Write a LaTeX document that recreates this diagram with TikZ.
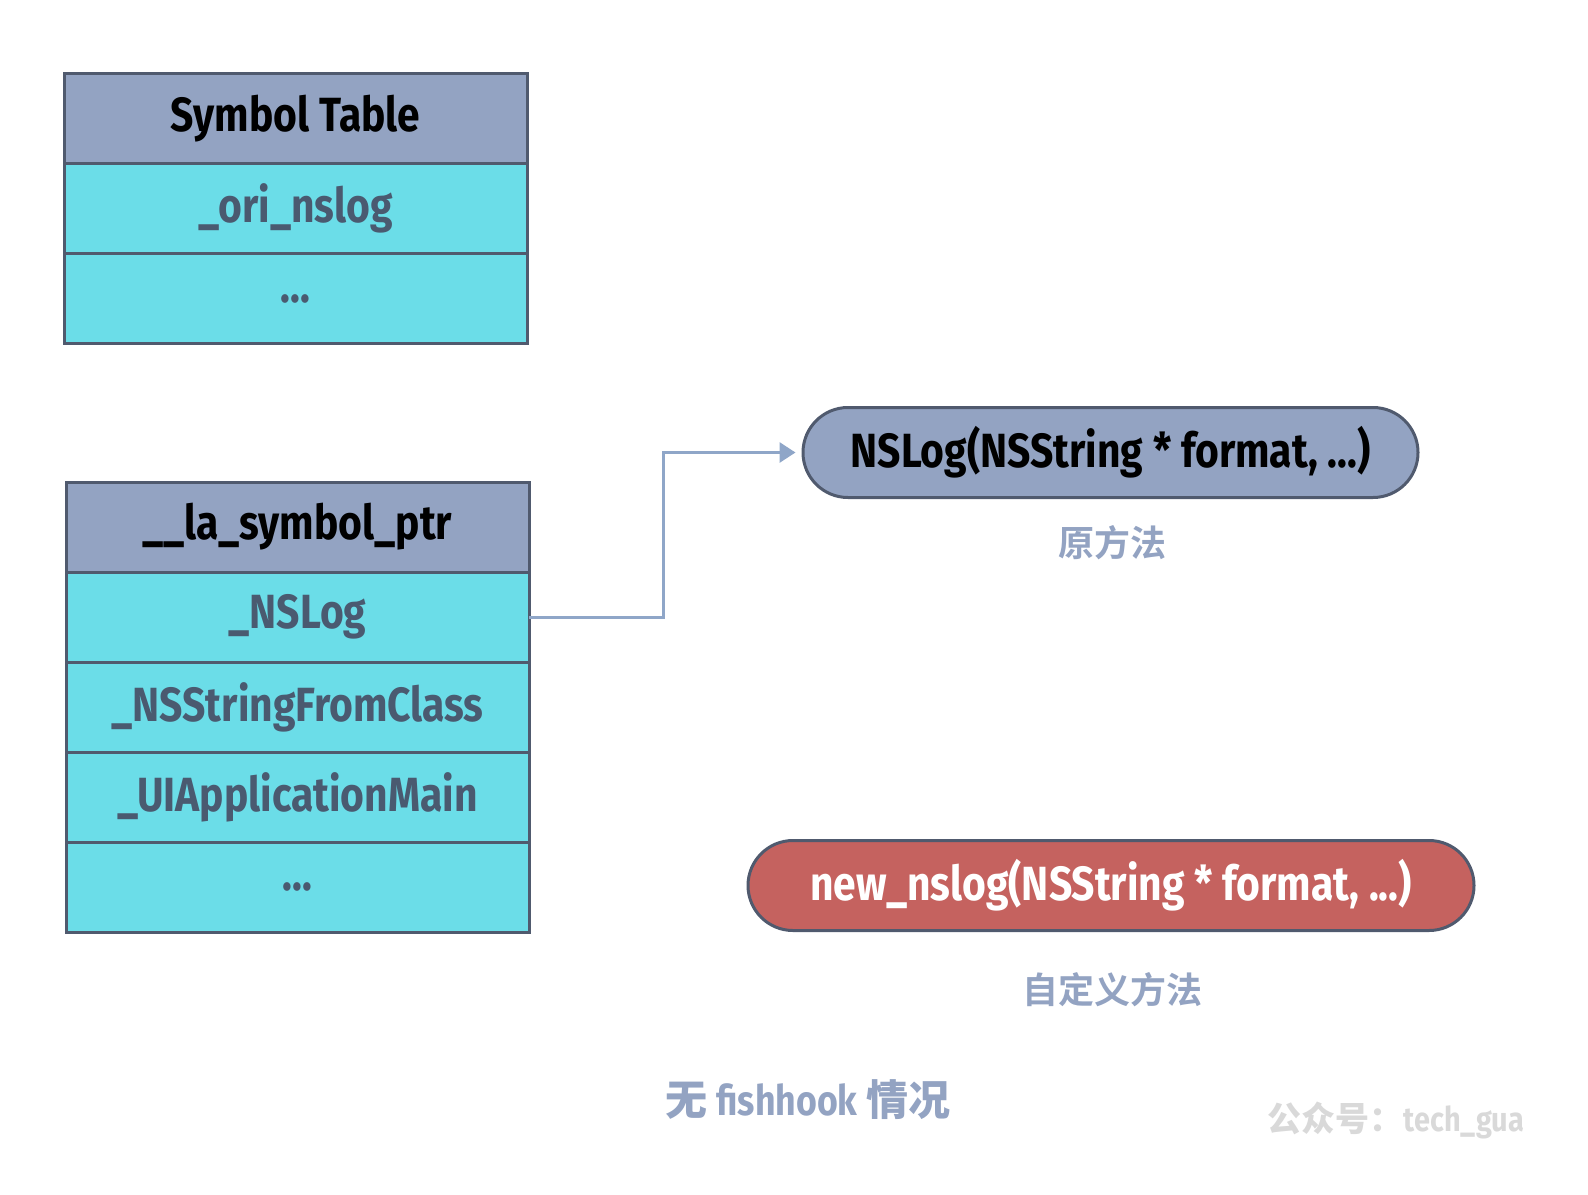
\documentclass[tikz,border=0pt]{standalone}
\usepackage{fontspec}
\setmainfont{Fira Sans}[FakeStretch=0.85]
\newfontfamily\cjk{Noto Sans CJK SC Bold}
\usetikzlibrary{shapes.misc,positioning,arrows.meta}
\definecolor{edge}{HTML}{505A6E}
\definecolor{headfill}{HTML}{93A3C2}
\definecolor{cyanfill}{HTML}{6BDDE8}
\definecolor{celltext}{HTML}{4A5A70}
\definecolor{redfill}{HTML}{C5625F}
\definecolor{linkcol}{HTML}{8FA6C8}
\definecolor{marktext}{HTML}{D9D9D9}
\tikzset{
  cell/.style={draw=edge,line width=1.5pt,minimum width=231.5pt,minimum height=45pt,
    inner sep=0pt,outer sep=0pt,text=celltext,font=\bfseries\fontsize{24}{27}\selectfont},
  headcell/.style={cell,fill=headfill,text=black},
  bodycell/.style={cell,fill=cyanfill},
  pill/.style={draw=edge,line width=1.5pt,rounded rectangle,minimum height=45pt,
    inner sep=0pt,font=\bfseries\fontsize{24}{27}\selectfont},
  caption/.style={text=headfill,font=\cjk\fontsize{18}{20}\selectfont},
  link/.style={draw=linkcol,line width=1.5pt,-{Triangle[length=8pt,width=10pt]},shorten >=3pt}
}
\begin{document}
\begin{tikzpicture}[x=0.5pt,y=-0.5pt,node distance=0pt]
  \useasboundingbox (0,0) rectangle (1588,1194);
  % symbol table
  \node[headcell] (symtab) at (295.5,118.5) {Symbol Table};
  \node[bodycell] (orinslog) [below=of symtab] {\_ori\_nslog};
  \node[bodycell] (symdots) [below=of orinslog] {...};
  % lazy symbol pointers
  \node[headcell] (laptr) at (297.5,527) {\_\_la\_symbol\_ptr};
  \node[bodycell] (nslog) [below=of laptr] {\_NSLog};
  \node[bodycell] (fromclass) [below=of nslog] {\_NSStringFromClass};
  \node[bodycell] (appmain) [below=of fromclass] {\_UIApplicationMain};
  \node[bodycell] (ladots) [below=of appmain] {...};
  % methods
  \node[pill,fill=headfill,minimum width=307.5pt] (orig) at (1110.5,452.5) {NSLog(NSString * format, ...)};
  \node[caption] (origcap) at (1112,543) {原方法};
  \node[pill,fill=redfill,text=white,minimum width=363pt] (newlog) at (1111,885.5) {new\_nslog(NSString * format, ...)};
  \node[caption] (newcap) at (1112,990) {自定义方法};
  \node[text=headfill,font=\bfseries\fontsize{21}{23}\selectfont] (title) at (808,1100) {{\cjk 无} fishhook {\cjk 情况}};
  \node[text=marktext,font=\bfseries\fontsize{17}{20}\selectfont] (mark) at (1396,1120) {{\cjk 公众号：}tech\_gua};
  \draw[link] (nslog.east) -- ++(134,0) |- (orig.west);
\end{tikzpicture}
\end{document}
